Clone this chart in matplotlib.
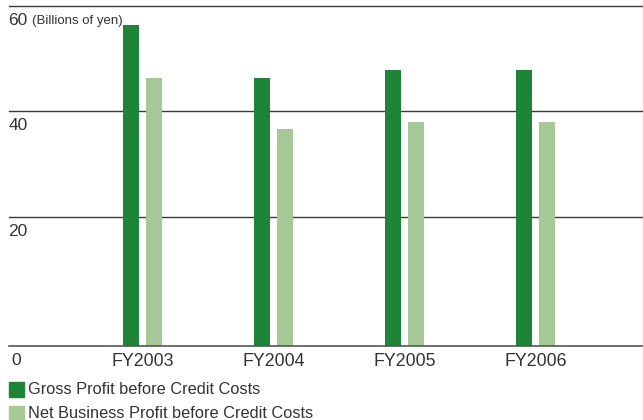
import matplotlib
matplotlib.use("Agg")
import matplotlib.pyplot as plt
import numpy as np
from matplotlib.transforms import blended_transform_factory
from matplotlib.patches import Rectangle

categories = ["FY2003", "FY2004", "FY2005", "FY2006"]
gross_profit = [56.3, 46.3, 47.8, 47.8]
net_business_profit = [46.3, 36.7, 38.0, 38.0]
series_names = ["Gross Profit before Credit Costs", "Net Business Profit before Credit Costs"]
grid_values = [60, 40, 20]
tick_labels = ["60", "40", "20"]
unit_label = "(Billions of yen)"

DARK = "#1e8437"
LIGHT = "#a6c796"
TEXT = "#333333"
FLOOR = -4.45  # visual baseline of the chart (labelled "0")

plt.rcParams['font.family'] = ['Liberation Sans', 'DejaVu Sans']

fig = plt.figure(figsize=(6.43, 4.20), dpi=100)
W, H = 643, 420
ax = fig.add_axes([9 / W, 1 - 346 / H, 1 - 9 / W, (346 - 5.7) / H])
ax.set_xlim(-1.019, 3.821)
ax.set_ylim(FLOOR, 60)
for s in ax.spines.values():
    s.set_visible(False)
ax.set_xticks([])
ax.set_yticks([])

x = np.arange(len(categories))
bw = 0.122
off = 0.0878
ax.bar(x - off, np.array(gross_profit) - FLOOR, bottom=FLOOR, width=bw, color=DARK, zorder=3)
ax.bar(x + off, np.array(net_business_profit) - FLOOR, bottom=FLOOR, width=bw, color=LIGHT, zorder=3)

for v in grid_values:
    ax.axhline(v, color="#3a3a3a", lw=1.0, zorder=2, clip_on=False)
ax.axhline(FLOOR, color="#555555", lw=1.2, zorder=4, clip_on=False)

tr = blended_transform_factory(ax.transAxes, ax.transData)
for v, lab in zip(grid_values, tick_labels):
    ax.annotate(lab, xy=(0, v), xycoords=tr, xytext=(-0.5, -5), textcoords="offset points",
                ha="left", va="top", fontsize=12.5, color=TEXT)
ax.annotate(unit_label, xy=(0, 60), xycoords=tr, xytext=(16.5, -6.5), textcoords="offset points",
            ha="left", va="top", fontsize=9.5, color=TEXT)
ax.annotate("0", xy=(0, FLOOR), xycoords=tr, xytext=(2, -5), textcoords="offset points",
            ha="left", va="top", fontsize=12.5, color=TEXT)
for xi, c in zip(x, categories):
    ax.annotate(c, xy=(xi, FLOOR), xytext=(0, -5), textcoords="offset points",
                ha="center", va="top", fontsize=12.8, color=TEXT)

# legend
for i, (name, col) in enumerate(zip(series_names, [DARK, LIGHT])):
    y0 = 1 - (397 + i * 24) / H
    fig.patches.append(Rectangle((9 / W, y0), 15 / W, 15 / H, transform=fig.transFigure,
                                 color=col, figure=fig))
    fig.text(28 / W, y0 + 7.5 / H, name, ha="left", va="center", fontsize=11.8, color=TEXT)

fig.savefig("out.png", dpi=100)
